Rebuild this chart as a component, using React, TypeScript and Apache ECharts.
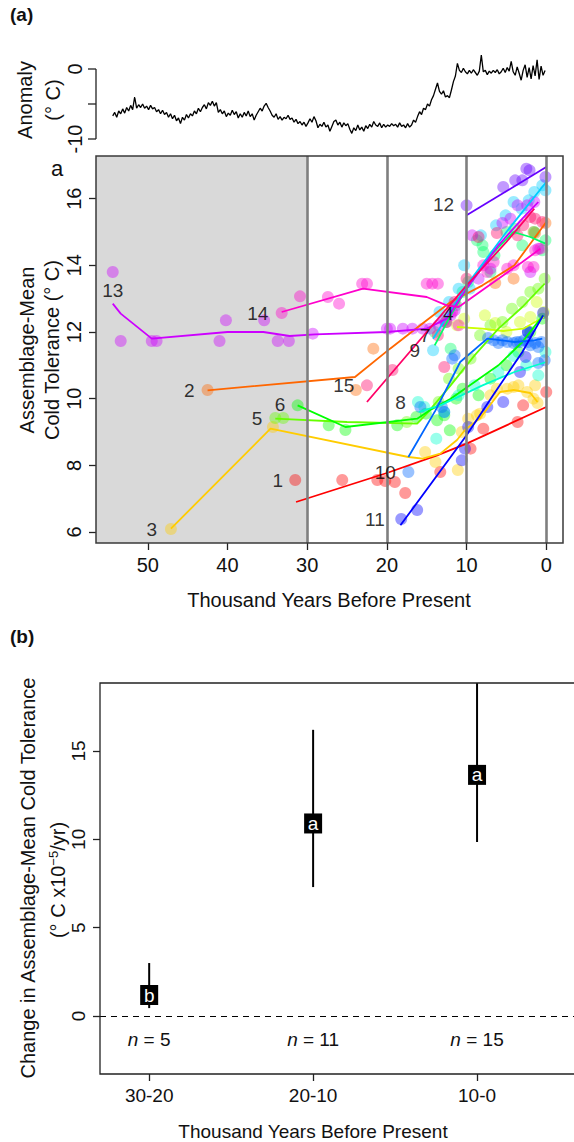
import React, { useEffect, useRef } from "react";
import * as echarts from "echarts";

const FONT = "'Liberation Sans', Arial, Helvetica, sans-serif";

// ---------- axes / ticks ----------
const KYR_MIN = -2.1;
const KYR_MAX = 56.5;
const KYR_TICKS = [0, 10, 20, 30, 40, 50];
const TOL_MIN = 5.67;
const TOL_MAX = 17.28;
const TOL_TICKS = [6, 8, 10, 12, 14, 16];
const ANOM_MIN = -10.5;
const ANOM_MAX = 2.5;
const ANOM_TICKS = [-10, -5, 0];
const ANOM_LABELS = [-10, 0];
const PERIOD_BOUNDS = [30, 20, 10, 0];
const LGM_START = 30;

// ---------- temperature anomaly (°C), regular time grid in kyr BP ----------
const ANOM_START = 54.4;
const ANOM_STEP = 0.25;
const ANOMALY = [
  -6.7, -6.2, -6.9, -6.0, -6.4, -5.7, -6.3, -5.5, -6.0, -5.2,
  -5.8, -4.0, -5.6, -5.1, -5.5, -5.0, -5.6, -5.3, -5.8, -5.2,
  -5.7, -5.5, -6.1, -5.8, -6.4, -5.9, -6.5, -6.2, -6.9, -6.4,
  -7.1, -6.6, -7.4, -7.0, -7.8, -6.9, -7.3, -6.5, -7.0, -6.4,
  -6.7, -6.0, -6.4, -5.6, -6.1, -5.5, -5.1, -5.7, -4.8, -5.2,
  -4.6, -5.3, -4.8, -6.2, -5.8, -6.4, -6.0, -6.8, -6.3, -6.6,
  -5.9, -6.5, -6.1, -7.0, -6.4, -6.9, -6.2, -6.7, -6.0, -6.8,
  -6.4, -7.3, -6.6, -6.1, -5.6, -6.0, -5.3, -4.9, -5.5, -6.0,
  -6.6, -6.9, -6.4, -7.2, -6.8, -7.3, -6.9, -7.1, -6.6, -7.2,
  -7.0, -7.6, -7.2, -7.8, -7.5, -8.0, -7.6, -8.2, -7.7, -7.1,
  -7.6, -6.8, -7.4, -8.4, -7.9, -8.2, -7.6, -8.3, -8.0, -8.9,
  -8.2, -7.5, -7.3, -8.0, -7.6, -8.3, -7.7, -8.1, -7.8, -8.6,
  -9.2, -8.4, -8.8, -8.0, -8.7, -8.3, -8.9, -8.1, -8.5, -7.9,
  -8.3, -7.5, -8.0, -8.2, -7.7, -8.4, -7.9, -8.3, -8.0, -8.2,
  -7.8, -8.1, -7.9, -8.3, -7.7, -8.2, -8.0, -8.4, -7.8, -8.3,
  -8.0, -7.3, -7.6, -6.8, -6.1, -6.5, -5.6, -5.8, -5.0, -5.3,
  -4.4, -3.8, -2.9, -2.0, -3.2, -3.6, -3.1, -4.0, -3.8, -4.1,
  -3.0, -1.8, -1.0, 0.8, -0.2, -0.5, 0.1, -0.4, -0.7, -0.2,
  -0.6, -0.1, -0.5, -0.9, -0.3, 2.0, -0.4, -0.2, -0.8, -0.3,
  -0.6, -0.2, -0.5, -0.1, -0.7, -0.4, 0.1, -0.5, 0.2, -0.3,
  1.1, -0.4, -0.9, 0.3, -0.6, -1.6, -0.2, 0.6, -1.2, 0.2,
  -1.4, 0.5, -1.0, 1.3, -1.5, 0.4, -0.9, -0.2,
];

// ---------- assemblage colours (rainbow of 15) ----------
const COLORS = [
  "#FF0000", "#FF6600", "#FFCC00", "#CCFF00", "#66FF00",
  "#00FF00", "#00FF66", "#00FFCC", "#00CCFF", "#0066FF",
  "#0000FF", "#6600FF", "#CC00FF", "#FF00CC", "#FF0066",
];

// ---------- assemblage-mean cold tolerance: points [kyr BP, °C] ----------
const S1_DOTS = [[31.5, 7.56], [25.6, 7.56], [21.2, 7.56], [20.2, 7.53], [19.0, 7.5], [17.7, 7.17], [13.3, 7.8], [9.5, 8.5], [7.9, 9.1], [3.6, 9.3], [2.9, 9.8], [0.0, 10.2]];
const S1_LINE = [[31.4, 6.9], [20, 7.77], [13.7, 8.3], [10, 8.65], [5, 9.2], [0, 9.75]];

const S2_DOTS = [[42.5, 10.26], [23.9, 10.26], [21.7, 11.5], [12.6, 12.3], [6.4, 13.47], [4.1, 13.6], [1.6, 15.0], [1.4, 14.97], [0.1, 15.27]];
const S2_LINE = [[42.5, 10.25], [24, 10.65], [19.6, 11.5], [15, 12.35], [12, 12.9], [8, 13.4], [4, 14.0], [0, 15.3]];

const S3_DOTS = [[47.1, 6.09], [34.3, 9.15], [15.2, 8.4], [13.9, 8.1], [11.1, 7.86], [10.6, 9.0], [9.8, 9.4], [8.7, 9.5], [8.3, 9.55], [7.0, 10.1], [6.2, 10.3], [4.9, 10.3], [4.1, 10.35], [3.5, 10.4], [2.4, 10.2], [1.6, 10.0], [1.4, 10.4], [1.1, 9.87]];
const S3_LINE = [[47.1, 6.1], [34.6, 9.1], [17.3, 8.25], [15.5, 8.2], [13.3, 8.35], [11.2, 8.76], [10.2, 9.06], [8.3, 9.42], [5.8, 10.2], [4.1, 10.26], [2, 10.17], [1.1, 9.9]];

const S4_DOTS = [[11.2, 12.2], [10.3, 12.4], [7.7, 12.5], [6.4, 12.27], [5.0, 12.0], [3.3, 12.3], [2.0, 12.45], [1.2, 12.9], [0.3, 12.6]];
const S4_LINE = [[11.2, 12.15], [8, 12.1], [5.4, 12.03], [2.9, 12.1], [0.3, 12.45]];

const S5_DOTS = [[34.0, 9.42], [33.0, 9.42], [17.5, 9.3], [13.5, 9.9], [12.2, 10.6], [11.0, 10.9], [9.5, 11.2], [8.3, 11.9], [7.0, 12.2], [5.5, 12.3], [4.3, 12.7], [3.0, 12.9], [2.0, 13.2], [1.0, 13.3], [0.2, 13.6]];
const S5_LINE = [[34, 9.4], [25, 9.3], [16.2, 9.25], [15, 9.55], [12, 10.4], [9, 11.3], [6, 12.1], [3, 12.75], [0.2, 13.45]];

const S6_DOTS = [[31.2, 9.8], [27.3, 9.2], [25.2, 9.06], [18.7, 9.2], [16.3, 9.45], [15.1, 9.55], [13.7, 9.35], [12.8, 9.5], [12.1, 9.05], [11.3, 10.0], [10.5, 10.3], [8.5, 10.1], [7.0, 10.6], [5.0, 11.0], [3.5, 11.4], [2.0, 12.0], [0.5, 12.4]];
const S6_LINE = [[31.2, 9.8], [25.2, 9.15], [16.2, 9.4], [14.6, 9.65], [12, 10.0], [9, 10.5], [6, 11.0], [3, 11.7], [0.4, 12.5]];

const S7_DOTS = [[14.0, 12.0], [12.6, 12.3], [12.0, 11.5], [11.3, 12.8], [10.5, 13.2], [9.8, 13.5], [8.7, 14.75], [8.0, 14.6], [7.9, 14.4], [7.0, 13.8], [6.5, 14.3], [5.0, 15.0], [4.0, 15.1], [3.0, 14.6], [1.5, 15.0], [0.5, 14.45], [0.1, 14.75]];
const S7_LINE = [[14, 11.6], [12, 12.5], [10, 13.3], [7, 14.3], [4.1, 15.0], [2, 14.85], [0.1, 14.65]];

const S8_DOTS = [[16.1, 9.9], [15.3, 9.75], [13.8, 8.8], [12.8, 9.6], [11.0, 10.1], [9.0, 10.4], [6.0, 10.8], [4.1, 11.28], [2.5, 11.0], [1.0, 10.7], [0.1, 11.4]];
const S8_LINE = [[16, 9.6], [13.3, 9.8], [8, 10.4], [4, 10.8], [0, 11.1]];

const S9_DOTS = [[14.2, 11.45], [13.4, 12.6], [12.2, 12.9], [11.0, 13.3], [10.3, 14.0], [9.6, 13.3], [8.2, 14.9], [6.3, 15.2], [5.1, 15.5], [4.1, 15.9], [3.1, 15.7], [2.2, 15.95], [1.5, 16.2], [0.5, 16.4], [0.1, 16.25]];
const S9_LINE = [[14.2, 11.8], [10, 13.4], [5, 15.0], [0, 16.5]];

const S10_DOTS = [[17.3, 7.8], [15.8, 9.75], [13.1, 9.75], [12.8, 9.6], [11.8, 11.2], [11.5, 11.3], [7.3, 11.82], [6.6, 11.75], [6.0, 11.67], [5.5, 11.75], [4.9, 11.7], [4.1, 11.67], [3.7, 11.7], [3.3, 11.7], [2.8, 11.75], [2.3, 11.7], [2.0, 11.6], [1.4, 11.67], [1.0, 11.55], [0.6, 11.7], [1.0, 11.07], [0.2, 11.15], [2.3, 12.0]];
const S10_LINE = [[17.3, 8.25], [13.9, 9.65], [10.8, 11.1], [7.4, 11.8], [4, 11.7], [1.5, 11.75], [0.5, 11.8]];

const S11_DOTS = [[18.2, 6.39], [16.2, 6.66], [10.6, 8.15], [10.2, 8.5], [9.8, 9.15], [7.4, 9.75], [5.4, 9.9], [3.3, 10.8], [2.6, 11.25], [2.3, 12.0], [0.4, 12.57]];
const S11_LINE = [[18.3, 6.2], [10, 8.9], [6.4, 10.2], [3, 11.4], [0.4, 12.5]];

const S12_DOTS = [[10.0, 15.8], [5.4, 16.35], [3.9, 16.55], [3.0, 16.55], [2.5, 16.9], [2.1, 16.85], [0.1, 16.65]];
const S12_LINE = [[10, 15.5], [0, 16.95]];

const S13_DOTS = [[54.4, 13.8], [53.4, 11.73], [49.5, 11.73], [48.9, 11.73], [41.0, 11.73], [40.2, 12.35], [35.4, 12.35], [33.7, 11.73], [32.3, 11.73], [29.3, 11.95], [20.0, 12.1], [19.6, 12.1], [18.0, 12.1], [16.8, 12.1], [15.5, 12.1], [14.6, 12.1], [13.5, 12.2], [12.8, 12.35], [12.0, 12.5], [11.5, 12.65], [9.3, 14.9], [8.5, 13.6], [7.0, 13.9], [5.5, 15.27], [4.5, 15.4], [3.6, 15.8], [2.4, 15.8], [1.5, 15.9], [2.0, 13.8], [1.0, 14.5]];
const S13_LINE = [[54.4, 12.85], [53.4, 12.55], [49.5, 11.8], [40, 12.0], [35.5, 12.0], [32.2, 11.88], [29, 11.93], [20, 12.0], [15, 12.1], [12.5, 12.4], [10, 13.3], [6, 14.6], [3, 15.4], [1, 15.9]];

const S14_DOTS = [[33.2, 12.57], [30.9, 13.07], [27.4, 13.05], [26.0, 12.85], [23.1, 13.45], [22.5, 13.45], [15.0, 13.45], [14.3, 13.45], [13.6, 13.45], [12.5, 12.3], [11.8, 12.6], [11.0, 12.2], [7.9, 14.0], [7.4, 13.8], [6.6, 14.1], [4.9, 13.9], [4.1, 14.0], [2.3, 13.95], [1.6, 13.95], [1.4, 14.45], [0.75, 14.5]];
const S14_LINE = [[33.2, 12.6], [23, 13.3], [15, 13.05], [12.5, 12.8], [11, 12.75], [6, 13.6], [3, 14.1], [0.75, 14.5]];

const S15_DOTS = [[22.5, 10.4], [19.3, 10.86], [12.8, 10.95], [13.6, 11.9], [11.5, 12.9], [10.0, 13.6], [8.5, 14.85], [6.2, 14.97], [3.6, 14.9], [2.9, 15.2], [2.0, 15.45], [1.4, 15.4], [0.5, 15.3]];
const S15_LINE = [[22.5, 9.9], [15, 12.0], [10, 13.4], [5, 14.7], [1.5, 15.7]];

const DOTS = [S1_DOTS, S2_DOTS, S3_DOTS, S4_DOTS, S5_DOTS, S6_DOTS, S7_DOTS, S8_DOTS, S9_DOTS, S10_DOTS, S11_DOTS, S12_DOTS, S13_DOTS, S14_DOTS, S15_DOTS];
const LINES = [S1_LINE, S2_LINE, S3_LINE, S4_LINE, S5_LINE, S6_LINE, S7_LINE, S8_LINE, S9_LINE, S10_LINE, S11_LINE, S12_LINE, S13_LINE, S14_LINE, S15_LINE];

// assemblage number label anchors [kyr BP, °C]
const LABEL_POS = [
  [33.7, 7.56], [44.8, 10.26], [49.5, 6.09], [12.3, 12.57], [36.3, 9.42],
  [33.4, 9.84], [15.2, 11.9], [18.3, 9.9], [16.5, 11.46], [20.2, 7.8],
  [21.5, 6.39], [12.9, 15.84], [54.4, 13.26], [36.2, 12.57], [25.4, 10.4],
];

// ---------- panel (b) ----------
const PERIODS = ["30-20", "20-10", "10-0"];
const RATE_EST = [1.19, 10.9, 13.65];
const RATE_LOW = [0.45, 7.3, 9.85];
const RATE_HIGH = [3.0, 16.2, 19.5];
const GROUP_LETTERS = ["b", "a", "a"];
const N_ASSEMBLAGES = [5, 11, 15];
const RATE_MIN = -3.28;
const RATE_MAX = 18.85;
const RATE_TICKS = [0, 5, 10, 15];
const N_LABEL_Y = -1.35;
const CAT_MIN = 0.7;
const CAT_MAX = 3.75;

function hexA(hex: string, a: number) {
  const r = parseInt(hex.slice(1, 3), 16);
  const g = parseInt(hex.slice(3, 5), 16);
  const b = parseInt(hex.slice(5, 7), 16);
  return `rgba(${r},${g},${b},${a})`;
}

const TXT = "#111";

function buildOption() {
  const series: any[] = [];

  // anomaly
  series.push({
    type: "line",
    xAxisIndex: 0,
    yAxisIndex: 0,
    data: ANOMALY.map((v, i) => [ANOM_START - i * ANOM_STEP, v]),
    showSymbol: false,
    symbol: "none",
    lineStyle: { color: "#000", width: 1.3 },
    z: 3,
  });
  // anomaly left axis (bracket from -10 to 0, with ticks and labels)
  series.push({
    type: "custom",
    xAxisIndex: 0,
    yAxisIndex: 0,
    clip: false,
    z: 4,
    data: [[KYR_MAX, ANOM_TICKS[0], ANOM_TICKS[ANOM_TICKS.length - 1]]],
    renderItem: (params: any, api: any) => {
      const a = api.coord([api.value(0), api.value(1)]);
      const b = api.coord([api.value(0), api.value(2)]);
      const children: any[] = [
        { type: "line", shape: { x1: a[0], y1: a[1], x2: b[0], y2: b[1] }, style: { stroke: "#222", lineWidth: 1.3 } },
      ];
      ANOM_TICKS.forEach((t) => {
        const p = api.coord([api.value(0), t]);
        children.push({ type: "line", shape: { x1: p[0] - 8, y1: p[1], x2: p[0], y2: p[1] }, style: { stroke: "#222", lineWidth: 1.3 } });
      });
      ANOM_LABELS.forEach((t) => {
        const p = api.coord([api.value(0), t]);
        children.push({
          type: "text", x: p[0] - 21, y: p[1], rotation: Math.PI / 2,
          style: { text: String(t), align: "center", verticalAlign: "middle", fontSize: 20, fontFamily: FONT, fill: TXT },
        });
      });
      return { type: "group", children };
    },
  });

  // background shading + period boundaries
  series.push({
    type: "line",
    xAxisIndex: 1,
    yAxisIndex: 1,
    data: [[LGM_START, 10]],
    symbol: "none",
    showSymbol: false,
    lineStyle: { opacity: 0 },
    z: 1,
    markArea: {
      silent: true,
      itemStyle: { color: "#D9D9D9" },
      data: [[{ xAxis: KYR_MAX }, { xAxis: LGM_START }]],
    },
    markLine: {
      silent: true,
      symbol: ["none", "none"],
      label: { show: false },
      lineStyle: { color: "#7f7f7f", width: 2.6, type: "solid" },
      data: PERIOD_BOUNDS.map((v) => ({ xAxis: v })),
    },
  });

  DOTS.forEach((d, i) => {
    series.push({
      type: "scatter",
      xAxisIndex: 1,
      yAxisIndex: 1,
      data: d,
      symbolSize: 12,
      itemStyle: { color: hexA(COLORS[i], 0.5) },
      z: 2,
    });
  });
  LINES.forEach((d, i) => {
    series.push({
      type: "line",
      xAxisIndex: 1,
      yAxisIndex: 1,
      data: d,
      symbol: "none",
      showSymbol: false,
      lineStyle: { color: COLORS[i], width: 1.8 },
      z: 3,
    });
  });
  series.push({
    type: "scatter",
    xAxisIndex: 1,
    yAxisIndex: 1,
    data: LABEL_POS,
    symbolSize: 1,
    itemStyle: { color: "rgba(0,0,0,0)" },
    z: 5,
    label: {
      show: true,
      position: "inside",
      formatter: (p: any) => String(p.dataIndex + 1),
      fontSize: 19,
      fontFamily: FONT,
      color: "#000",
    },
  });

  // panel b
  series.push({
    type: "custom",
    xAxisIndex: 2,
    yAxisIndex: 2,
    clip: true,
    data: PERIODS.map((_, i) => [i + 1, RATE_LOW[i], RATE_HIGH[i], RATE_EST[i]]),
    renderItem: (params: any, api: any) => {
      const x = api.value(0);
      const lo = api.coord([x, api.value(1)]);
      const hi = api.coord([x, api.value(2)]);
      const mid = api.coord([x, api.value(3)]);
      const np = api.coord([x, N_LABEL_Y]);
      const idx = params.dataIndex;
      return {
        type: "group",
        children: [
          { type: "line", shape: { x1: lo[0], y1: lo[1], x2: hi[0], y2: hi[1] }, style: { stroke: "#000", lineWidth: 2 } },
          { type: "rect", shape: { x: mid[0] - 9, y: mid[1] - 10, width: 18, height: 20 }, style: { fill: "#000" } },
          {
            type: "text",
            style: { text: GROUP_LETTERS[idx], x: mid[0], y: mid[1], align: "center", verticalAlign: "middle", fill: "#fff", fontSize: 19, fontFamily: FONT },
          },
          {
            type: "text",
            style: {
              text: "{i|n} = " + N_ASSEMBLAGES[idx],
              x: np[0], y: np[1], align: "center", verticalAlign: "middle",
              fill: TXT, fontSize: 19, fontFamily: FONT,
              rich: { i: { fontStyle: "italic", fontSize: 19, fontFamily: FONT, fill: TXT } },
            },
          },
        ],
      };
    },
    markLine: {
      silent: true,
      symbol: ["none", "none"],
      label: { show: false },
      lineStyle: { color: "#000", width: 1.2, type: [6, 5] },
      data: [{ yAxis: 0 }],
    },
    z: 3,
  });

  const tickStyle = { color: "#222", width: 1.3 };
  const labelBase = { fontSize: 20, fontFamily: FONT, color: TXT, margin: 12 };
  const noLine = { show: false, onZero: false };

  return {
    animation: false,
    backgroundColor: "#fff",
    grid: [
      { left: 96, right: 11, top: 51.5, height: 91, show: false, containLabel: false, outerBoundsMode: "none" },
      { left: 96, right: 11, top: 156, height: 387, show: true, borderColor: "#3a3a3a", borderWidth: 1.5, backgroundColor: "transparent", z: 10, containLabel: false, outerBoundsMode: "none" },
      { left: 100, right: -26, top: 683, height: 391, show: true, borderColor: "#222", borderWidth: 1.3, backgroundColor: "transparent", z: 10, containLabel: false, outerBoundsMode: "none" },
    ],
    xAxis: [
      { gridIndex: 0, type: "value", min: KYR_MIN, max: KYR_MAX, inverse: true, show: false, axisLine: noLine },
      {
        gridIndex: 1, type: "value", min: KYR_MIN, max: KYR_MAX, inverse: true,
        axisLine: noLine, splitLine: { show: false },
        axisTick: { show: true, customValues: KYR_TICKS, length: 7, lineStyle: tickStyle },
        axisLabel: { ...labelBase, customValues: KYR_TICKS },
      },
      {
        gridIndex: 2, type: "value", min: CAT_MIN, max: CAT_MAX,
        axisLine: noLine, splitLine: { show: false },
        axisTick: { show: true, customValues: [1, 2, 3], length: 7, lineStyle: tickStyle },
        axisLabel: { ...labelBase, fontSize: 19, customValues: [1, 2, 3], formatter: (v: number) => PERIODS[Math.round(v) - 1] },
      },
    ],
    yAxis: [
      {
        gridIndex: 0, type: "value", min: ANOM_MIN, max: ANOM_MAX, show: false,
        axisLine: noLine, splitLine: { show: false },
      },
      {
        gridIndex: 1, type: "value", min: TOL_MIN, max: TOL_MAX,
        axisLine: noLine, splitLine: { show: false },
        axisTick: { show: true, customValues: TOL_TICKS, length: 7, lineStyle: tickStyle },
        axisLabel: { ...labelBase, rotate: 90, customValues: TOL_TICKS },
      },
      {
        gridIndex: 2, type: "value", min: RATE_MIN, max: RATE_MAX,
        axisLine: noLine, splitLine: { show: false },
        axisTick: { show: true, customValues: RATE_TICKS, length: 7, lineStyle: tickStyle },
        axisLabel: { ...labelBase, fontSize: 19, rotate: 90, customValues: RATE_TICKS },
      },
    ],
    graphic: [
      { type: "text", x: 10, y: 14, style: { text: "(a)", fontSize: 19, fontWeight: "bold", fontFamily: FONT, fill: TXT, verticalAlign: "middle" } },
      { type: "text", x: 10, y: 636, style: { text: "(b)", fontSize: 19, fontWeight: "bold", fontFamily: FONT, fill: TXT, verticalAlign: "middle" } },
      { type: "text", x: 57, y: 168, style: { text: "a", fontSize: 22, fontFamily: FONT, fill: TXT, align: "center", verticalAlign: "middle" } },
      { type: "text", x: 25, y: 100, rotation: Math.PI / 2, style: { text: "Anomaly", fontSize: 20, fontFamily: FONT, fill: TXT, align: "center", verticalAlign: "middle" } },
      { type: "text", x: 53, y: 100, rotation: Math.PI / 2, style: { text: "(° C)", fontSize: 20, fontFamily: FONT, fill: TXT, align: "center", verticalAlign: "middle" } },
      { type: "text", x: 27, y: 350, rotation: Math.PI / 2, style: { text: "Assemblage-Mean", fontSize: 20, fontFamily: FONT, fill: TXT, align: "center", verticalAlign: "middle" } },
      { type: "text", x: 52, y: 350, rotation: Math.PI / 2, style: { text: "Cold Tolerance (° C)", fontSize: 20, fontFamily: FONT, fill: TXT, align: "center", verticalAlign: "middle" } },
      { type: "text", x: 329, y: 600, style: { text: "Thousand Years Before Present", fontSize: 20, fontFamily: FONT, fill: TXT, align: "center", verticalAlign: "middle" } },
      { type: "text", x: 28, y: 878, rotation: Math.PI / 2, style: { text: "Change in Assemblage-Mean Cold Tolerance", fontSize: 20, fontFamily: FONT, fill: TXT, align: "center", verticalAlign: "middle" } },
      {
        type: "text", x: 58, y: 880, rotation: Math.PI / 2,
        style: {
          text: "(° C x10{sup|−5}/yr)", fontSize: 20, fontFamily: FONT, fill: TXT, align: "center", verticalAlign: "middle",
          rich: { sup: { fontSize: 13, fontFamily: FONT, fill: TXT, verticalAlign: "top", lineHeight: 22 } },
        },
      },
      { type: "text", x: 313, y: 1131, style: { text: "Thousand Years Before Present", fontSize: 19, fontFamily: FONT, fill: TXT, align: "center", verticalAlign: "middle" } },
    ],
    series,
  };
}

export default function App() {
  const ref = useRef<HTMLDivElement>(null);
  useEffect(() => {
    if (!ref.current) return;
    const chart = echarts.init(ref.current, undefined, { renderer: "svg" });
    chart.setOption(buildOption() as any);
    return () => chart.dispose();
  }, []);
  return (
    <div
      ref={ref}
      style={{ position: "absolute", left: 0, top: 0, width: 574, height: 1142, background: "#fff" }}
    />
  );
}
